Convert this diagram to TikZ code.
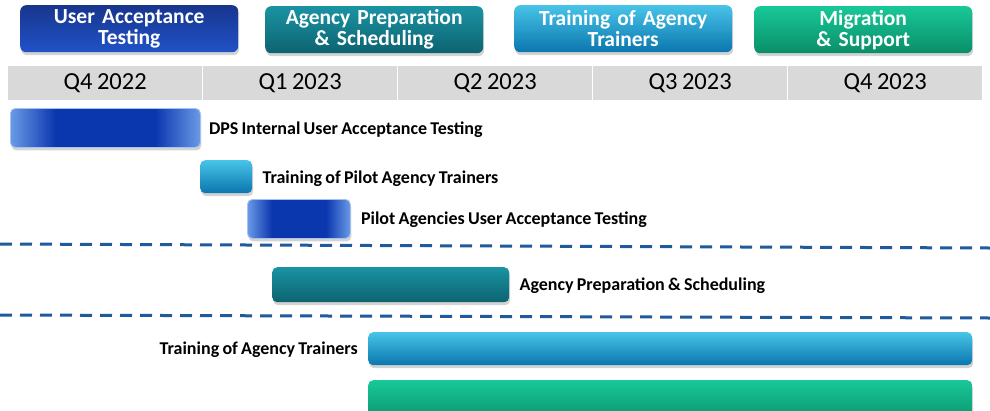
\documentclass[tikz,border=0pt]{standalone}
\usepackage{fontspec}
\setmainfont{Carlito}[BoldFont={Carlito Bold}, WordSpace=0.8]
\usetikzlibrary{shadows}

\definecolor{uatdark}{HTML}{17358E}
\definecolor{uatlight}{HTML}{2152C8}
\definecolor{uatedge}{HTML}{6A9AE6}
\definecolor{uatmid}{HTML}{0A36AE}
\definecolor{prepdark}{HTML}{0D6370}
\definecolor{preplight}{HTML}{1A93A3}
\definecolor{traindark}{HTML}{0A76AE}
\definecolor{trainlight}{HTML}{48C4E8}
\definecolor{migdark}{HTML}{0A8E68}
\definecolor{miglight}{HTML}{18C898}
\definecolor{quartergray}{HTML}{D9D9D9}
\definecolor{dashblue}{HTML}{1F5A9E}

\pgfdeclarehorizontalshading{uatshade}{100bp}{color(0bp)=(uatedge); color(25bp)=(uatedge);
  color(37bp)=(uatmid); color(63bp)=(uatmid); color(75bp)=(uatedge); color(100bp)=(uatedge)}

\tikzstyle{header} = [
    rectangle,
    rounded corners=6pt,
    minimum width=218pt,
    minimum height=47pt,
    text width=216pt,
    align=center,
    anchor=north west,
    inner sep=0pt,
    text=white,
    font=\bfseries\fontsize{21.5}{21}\selectfont,
    drop shadow={opacity=0.35, shadow xshift=1pt, shadow yshift=-3pt}
]
\tikzstyle{quarter} = [
    rectangle,
    fill=quartergray,
    minimum width=194pt,
    minimum height=34pt,
    anchor=north west,
    inner sep=0pt,
    font=\fontsize{24.5}{25}\selectfont
]
\tikzstyle{bar} = [
    rectangle,
    rounded corners=5pt,
    anchor=north west,
    inner sep=0pt,
    drop shadow={opacity=0.35, shadow xshift=1pt, shadow yshift=-3pt}
]
\tikzstyle{uatbar} = [bar, shading=uatshade, draw=uatedge!60!white, line width=0.8pt]
\tikzstyle{trainbar} = [bar, top color=trainlight, bottom color=traindark]
\tikzstyle{prepbar} = [bar, top color=preplight, bottom color=prepdark]
\tikzstyle{migbar} = [bar, top color=miglight, bottom color=migdark]
\tikzstyle{label} = [font=\bfseries\fontsize{18}{19}\selectfont, inner sep=0pt]
\tikzstyle{divider} = [dashblue, line width=3pt, dash pattern=on 12pt off 8pt]

\begin{document}
\begin{tikzpicture}[x=1pt, y=-1pt]

\clip (0,0) rectangle (990,410);

% phase headers
\node (hdruat) [header, top color=uatdark, bottom color=uatlight] at (20,5)
{User Acceptance\\Testing};
\node (hdrprep) [header, top color=preplight, bottom color=prepdark] at (265,6)
{Agency Preparation\\\& Scheduling};
\node (hdrtrain) [header, top color=trainlight, bottom color=traindark] at (514,5)
{Training of Agency\\Trainers};
\node (hdrmig) [header, top color=miglight, bottom color=migdark] at (754,6)
{Migration\\\& Support};

% quarters
\node (qa) [quarter] at (8,66) {Q4 2022};
\node (qb) [quarter] at (203,66) {Q1 2023};
\node (qc) [quarter] at (398,66) {Q2 2023};
\node (qd) [quarter] at (593,66) {Q3 2023};
\node (qe) [quarter] at (788,66) {Q4 2023};

% tasks
\node (dpsuat) [uatbar, minimum width=190pt, minimum height=39pt] at (10,108) {};
\node (dpsuatlbl) [label, anchor=west] at ([xshift=8pt, yshift=-2pt]dpsuat.east)
{DPS Internal User Acceptance Testing};

\node (pilottrain) [trainbar, minimum width=52pt, minimum height=33pt] at (200,160) {};
\node (pilottrainlbl) [label, anchor=west] at ([xshift=10pt, yshift=-2pt]pilottrain.east)
{Training of Pilot Agency Trainers};

\node (pilotuat) [uatbar, minimum width=103pt, minimum height=39pt] at (247,199) {};
\node (pilotuatlbl) [label, anchor=west] at ([xshift=10pt, yshift=-1pt]pilotuat.east)
{Pilot Agencies User Acceptance Testing};

\draw [divider] (0,244) -- (990,248);

\node (prep) [prepbar, minimum width=237pt, minimum height=35pt] at (272,267) {};
\node (preplbl) [label, anchor=west] at ([xshift=10pt, yshift=-1pt]prep.east)
{Agency Preparation \& Scheduling};

\draw [divider] (0,315) -- (990,318);

\node (train) [trainbar, minimum width=604pt, minimum height=33pt] at (368,332) {};
\node (trainlbl) [label, anchor=east] at ([xshift=-10pt, yshift=-1pt]train.west)
{Training of Agency Trainers};

\node (mig) [migbar, minimum width=604pt, minimum height=45pt] at (368,380) {};

\end{tikzpicture}
\end{document}
